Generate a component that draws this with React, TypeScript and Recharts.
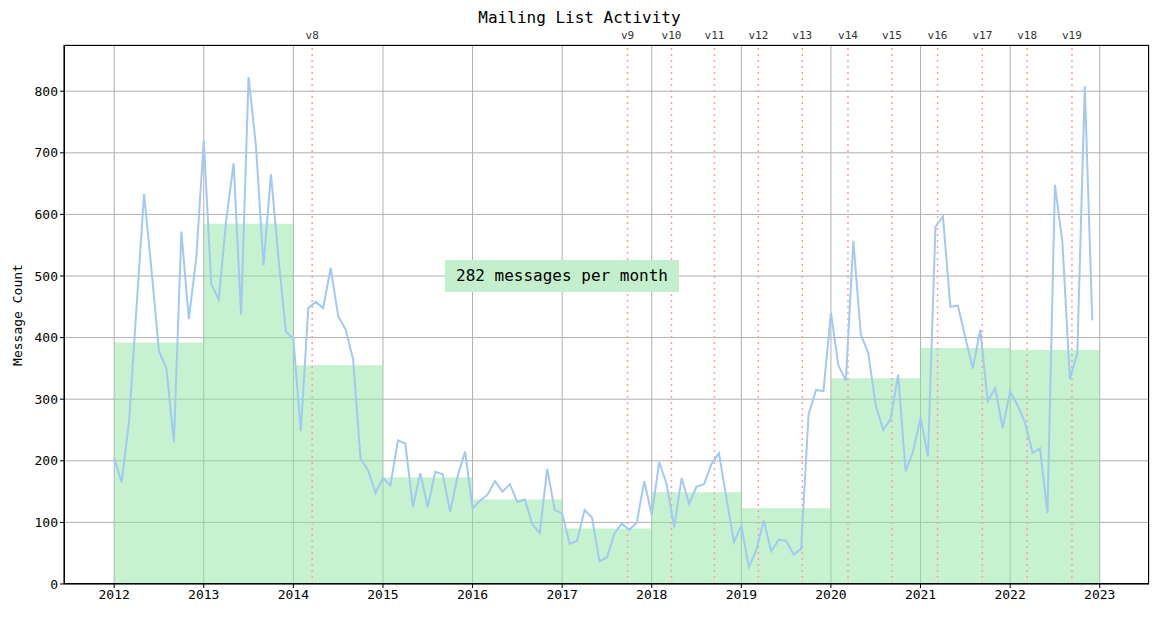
import { ComposedChart, Line, Area, XAxis, YAxis, CartesianGrid, ReferenceLine } from "recharts";

const years = [2012, 2013, 2014, 2015, 2016, 2017, 2018, 2019, 2020, 2021, 2022];
const monthly = [
  [205, 165, 265, 450, 633, 510, 378, 350, 230, 572, 430, 530],
  [720, 487, 462, 590, 683, 437, 823, 710, 517, 665, 530, 410],
  [398, 248, 448, 458, 448, 513, 435, 413, 365, 203, 185, 148],
  [172, 160, 233, 228, 125, 180, 125, 182, 178, 117, 175, 215],
  [123, 135, 145, 167, 150, 162, 133, 137, 97, 83, 187, 120],
  [115, 65, 70, 120, 108, 37, 43, 82, 98, 88, 100, 167],
  [112, 198, 162, 92, 172, 130, 158, 162, 195, 212, 140, 68],
  [95, 27, 55, 103, 53, 72, 70, 48, 57, 275, 315, 313],
  [440, 355, 330, 557, 405, 375, 290, 250, 268, 340, 183, 215],
  [270, 207, 580, 597, 450, 452, 400, 350, 413, 297, 318, 253],
  [313, 290, 262, 213, 220, 115, 648, 555, 333, 375, 808, 428],
];
const yearlyMean = [392, 585, 355, 173, 137, 90, 149, 123, 334, 383, 380];
const versions = ["v8", "v9", "v10", "v11", "v12", "v13", "v14", "v15", "v16", "v17", "v18", "v19"];
const versionDates = [2014.21, 2017.73, 2018.22, 2018.7, 2019.19, 2019.68, 2020.19, 2020.68, 2021.19, 2021.69, 2022.19, 2022.69];
const xTicks = [2012, 2013, 2014, 2015, 2016, 2017, 2018, 2019, 2020, 2021, 2022, 2023];
const yTicks = [0, 100, 200, 300, 400, 500, 600, 700, 800];

const data: Array<{ x: number; count?: number; mean?: number }> = [];
years.forEach((y, yi) => {
  monthly[yi].forEach((v, m) => {
    data.push({ x: y + m / 12, count: v, mean: m === 0 ? yearlyMean[yi] : undefined });
  });
});
data.push({ x: 2023, mean: yearlyMean[yearlyMean.length - 1] });

const font = "'DejaVu Sans Mono', monospace";

export default function App() {
  return (
    <div style={{ position: "absolute", left: 0, top: 0, width: 1159, height: 618, background: "#fff", fontFamily: font }}>
      <div style={{ position: "absolute", top: 8, width: 1159, textAlign: "center", fontSize: 16 }}>Mailing List Activity</div>
      <div style={{ position: "absolute", left: 8, top: 315, transform: "translate(-50%,-50%) rotate(-90deg)", transformOrigin: "center", fontSize: 13, whiteSpace: "nowrap", marginLeft: 9 }}>Message Count</div>
      <ComposedChart width={1159} height={618} data={data} margin={{ top: 45, right: 10, bottom: 9, left: 24 }}>
        <CartesianGrid stroke="#b0b0b0" strokeWidth={1} />
        <XAxis dataKey="x" type="number" domain={[2011.44, 2023.55]} ticks={xTicks} allowDataOverflow height={25}
          tick={{ fill: "#000", fontSize: 13, fontFamily: font }} stroke="#000" tickSize={4} />
        <YAxis type="number" domain={[0, 875]} ticks={yTicks} allowDataOverflow width={40}
          tick={{ fill: "#000", fontSize: 13, fontFamily: font }} stroke="#000" tickSize={4} />
        <Area dataKey="mean" type="stepAfter" connectNulls stroke="none" fill="#8de5a1" fillOpacity={0.5} isAnimationActive={false} />
        {versions.map((v, i) => (
          <ReferenceLine key={v} x={versionDates[i]} stroke="#ff9f9b" strokeDasharray="2 4" strokeWidth={1.5}
            segment={[{ x: versionDates[i], y: 0 }, { x: versionDates[i], y: 820 }]}
            label={{ value: v, position: "top", fill: "#333", fontSize: 11, fontFamily: font, offset: 6 }} />
        ))}
        <Line dataKey="count" type="linear" stroke="#a1c9f4" strokeWidth={2} dot={false} isAnimationActive={false} />
      </ComposedChart>
      <div style={{ position: "absolute", left: 64, top: 45, width: 1085, height: 539, border: "1px solid #000", boxSizing: "border-box", pointerEvents: "none" }} />
      <div style={{ position: "absolute", left: 445, top: 260, width: 234, height: 32, background: "#c3efcc", fontSize: 16, lineHeight: "32px", textAlign: "center" }}>282 messages per month</div>
    </div>
  );
}
